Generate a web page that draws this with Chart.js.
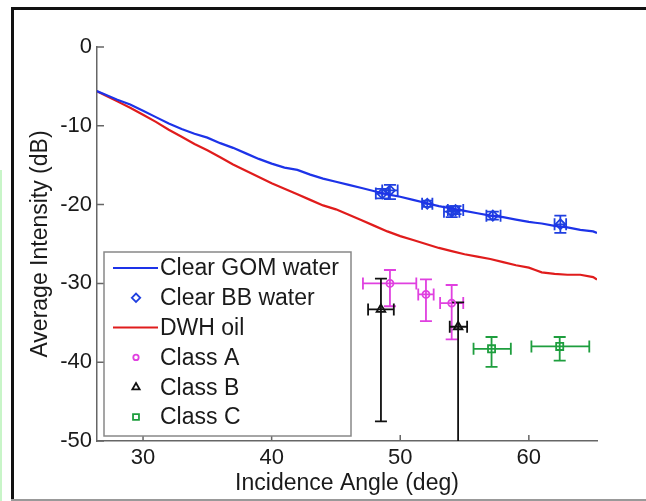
<!DOCTYPE html>
<html>
<head>
<meta charset="utf-8">
<script src="https://cdn.jsdelivr.net/npm/chart.js@4.4.1/dist/chart.umd.min.js"></script>
<style>
html, body { margin: 0; padding: 0; background: #fff; }
#wrap { position: relative; width: 646px; height: 501px; }
</style>
</head>
<body>
<div id="wrap"><canvas id="chart"></canvas></div>
<script>
// axis ticks
const xTicks = [30, 40, 50, 60];
const yTicks = [0, -10, -20, -30, -40, -50];

// mean curves (incidence angle, dB)
const angles = [26.4, 27, 28, 29, 30, 31, 32, 33, 34, 35, 36, 37, 38, 39, 40, 41, 42, 43, 44, 45, 46, 47, 48, 49, 50,
  51, 52, 53, 54, 55, 56, 57, 58, 59, 60, 60.5, 61, 62, 63, 64, 65, 65.3];
const gomWater = [-5.6, -6.0, -6.7, -7.3, -8.1, -8.9, -9.7, -10.4, -11.0, -11.5, -12.2, -12.8, -13.5, -14.2, -14.8,
  -15.3, -15.6, -16.2, -16.7, -17.1, -17.5, -17.9, -18.3, -18.7, -19.0, -19.4, -19.8, -20.2, -20.5, -20.8, -21.1,
  -21.4, -21.6, -21.9, -22.2, -22.3, -22.4, -22.7, -22.9, -23.2, -23.4, -23.6];
const dwhOil = [-5.6, -6.1, -6.9, -7.7, -8.6, -9.5, -10.5, -11.4, -12.3, -13.1, -14.0, -14.9, -15.7, -16.5, -17.3,
  -18.0, -18.7, -19.4, -20.1, -20.6, -21.3, -22.0, -22.7, -23.4, -24.0, -24.5, -25.0, -25.5, -25.9, -26.3, -26.6,
  -26.9, -27.3, -27.7, -28.0, -28.3, -28.6, -28.8, -28.9, -28.9, -29.2, -29.5];

// Clear BB water samples with error ranges
const bbAngle   = [48.6, 49.2, 52.1, 54.0, 54.3, 57.2, 62.45];
const bbLevel   = [-18.6, -18.2, -19.9, -20.9, -20.7, -21.4, -22.5];
const bbAngleLo = [48.1, 48.6, 51.7, 53.4, 53.7, 56.7, 62.0];
const bbAngleHi = [49.1, 49.8, 52.5, 54.6, 54.9, 57.8, 62.9];
const bbLevelLo = [-19.2, -19.3, -20.3, -21.6, -21.2, -21.9, -23.6];
const bbLevelHi = [-18.0, -17.5, -19.5, -20.2, -20.2, -20.9, -21.4];

// Class A
const aAngle   = [49.2, 52.0, 54.0];
const aLevel   = [-30.0, -31.4, -32.5];
const aAngleLo = [47.1, 51.4, 53.1];
const aAngleHi = [51.25, 52.6, 54.9];
const aLevelLo = [-32.9, -34.8, -37.1];
const aLevelHi = [-28.3, -29.5, -30.2];

// Class B
const bAngle   = [48.5, 54.5];
const bLevel   = [-33.3, -35.5];
const bAngleLo = [47.5, 53.85];
const bAngleHi = [49.5, 55.2];
const bLevelLo = [-47.5, -55];
const bLevelHi = [-29.4, -32.4];

// Class C
const cAngle   = [57.1, 62.4];
const cLevel   = [-38.3, -38.0];
const cAngleLo = [55.7, 60.2];
const cAngleHi = [58.6, 64.7];
const cLevelLo = [-40.6, -39.8];
const cLevelHi = [-36.8, -36.8];

const FONT = "'Liberation Sans', Arial, Helvetica, sans-serif";
const AXIS = '#666';
const NONE = 'rgba(0,0,0,0)';

function pts(xs, ys) {
  return xs.map((x, i) => ({ x: x, y: ys[i] }));
}

const errorBars = {
  id: 'errorBars',
  beforeDatasetsDraw(chart) {
    const ctx = chart.ctx;
    const xs = chart.scales.x, ys = chart.scales.y;
    const area = chart.chartArea;
    ctx.save();
    ctx.beginPath();
    ctx.rect(area.left, area.top, area.right - area.left, area.bottom - area.top);
    ctx.clip();
    chart.data.datasets.forEach((ds) => {
      const e = ds.errorBars;
      if (!e) return;
      ctx.strokeStyle = ds.borderColor;
      ctx.lineWidth = 1.8;
      const cap = 6;
      ds.data.forEach((p, i) => {
        const px = xs.getPixelForValue(p.x);
        const py = ys.getPixelForValue(p.y);
        const x0 = xs.getPixelForValue(e.xLo[i]), x1 = xs.getPixelForValue(e.xHi[i]);
        const y0 = ys.getPixelForValue(e.yLo[i]), y1 = ys.getPixelForValue(e.yHi[i]);
        ctx.beginPath();
        ctx.moveTo(x0, py); ctx.lineTo(x1, py);
        ctx.moveTo(x0, py - cap); ctx.lineTo(x0, py + cap);
        ctx.moveTo(x1, py - cap); ctx.lineTo(x1, py + cap);
        ctx.moveTo(px, y0); ctx.lineTo(px, y1);
        ctx.moveTo(px - cap, y0); ctx.lineTo(px + cap, y0);
        ctx.moveTo(px - cap, y1); ctx.lineTo(px + cap, y1);
        ctx.stroke();
      });
    });
    ctx.restore();
  }
};

const frameAndTicks = {
  id: 'frameAndTicks',
  beforeDraw(chart) {
    const ctx = chart.ctx;
    ctx.save();
    ctx.fillStyle = '#fff';
    ctx.fillRect(0, 0, chart.width, chart.height);
    ctx.fillStyle = '#c8f5c8';
    ctx.fillRect(0, 170, 2, chart.height - 170);
    ctx.fillStyle = '#111';
    ctx.fillRect(11, 7, chart.width - 11, 3);
    ctx.fillRect(11, 7, 3, chart.height - 7);
    ctx.fillStyle = '#999';
    ctx.fillRect(11, chart.height - 2, chart.width - 11, 2);
    ctx.restore();
  },
  afterDraw(chart) {
    const ctx = chart.ctx;
    const xs = chart.scales.x, ys = chart.scales.y;
    const area = chart.chartArea;
    ctx.save();
    ctx.strokeStyle = AXIS;
    ctx.lineWidth = 1.5;
    ctx.beginPath();
    xTicks.forEach((v) => {
      const px = xs.getPixelForValue(v);
      ctx.moveTo(px, area.bottom); ctx.lineTo(px, area.bottom - 6);
    });
    yTicks.forEach((v) => {
      const py = ys.getPixelForValue(v);
      ctx.moveTo(area.left, py); ctx.lineTo(area.left + 7, py);
    });
    ctx.stroke();

    // legend box
    const bx = 104, by = 252, bw = 247, bh = 184;
    ctx.fillStyle = '#fff';
    ctx.fillRect(bx, by, bw, bh);
    ctx.strokeStyle = '#888';
    ctx.lineWidth = 1.5;
    ctx.strokeRect(bx, by, bw, bh);
    ctx.textBaseline = 'middle';
    ctx.textAlign = 'left';
    chart.data.datasets.forEach((ds, i) => {
      const ry = 268 + i * 29.8;
      ctx.strokeStyle = ds.borderColor;
      if (ds.showLine) {
        ctx.lineWidth = 2;
        ctx.beginPath();
        ctx.moveTo(113, ry); ctx.lineTo(158, ry);
        ctx.stroke();
      } else {
        ctx.lineWidth = ds.pointBorderWidth;
        ctx.fillStyle = NONE;
        Chart.helpers.drawPoint(ctx, {
          pointStyle: ds.pointStyle, radius: ds.pointRadius - 0.8, rotation: 0, borderWidth: ds.pointBorderWidth
        }, 136, ry);
      }
      ctx.font = '23px ' + FONT;
      ctx.fillStyle = '#1a1a1a';
      ctx.fillText(ds.label, 160, ry + 1);
    });
    ctx.restore();
  }
};

new Chart(document.getElementById('chart'), {
  type: 'scatter',
  data: {
    datasets: [
      { label: 'Clear GOM water', data: pts(angles, gomWater), showLine: true, borderColor: '#1d33e8',
        borderWidth: 2.2, pointRadius: 0, tension: 0 },
      { label: 'Clear BB water', data: pts(bbAngle, bbLevel), borderColor: '#1f3fe0', backgroundColor: NONE,
        pointBackgroundColor: NONE, pointStyle: 'rectRot', pointRadius: 5, pointBorderWidth: 1.8,
        errorBars: { xLo: bbAngleLo, xHi: bbAngleHi, yLo: bbLevelLo, yHi: bbLevelHi } },
      { label: 'DWH oil', data: pts(angles, dwhOil), showLine: true, borderColor: '#e01c1c',
        borderWidth: 2.2, pointRadius: 0, tension: 0 },
      { label: 'Class A', data: pts(aAngle, aLevel), borderColor: '#e040e0', backgroundColor: NONE,
        pointBackgroundColor: NONE, pointStyle: 'circle', pointRadius: 3.5, pointBorderWidth: 1.8,
        errorBars: { xLo: aAngleLo, xHi: aAngleHi, yLo: aLevelLo, yHi: aLevelHi } },
      { label: 'Class B', data: pts(bAngle, bLevel), borderColor: '#111111', backgroundColor: NONE,
        pointBackgroundColor: NONE, pointStyle: 'triangle', pointRadius: 5, pointBorderWidth: 1.8,
        errorBars: { xLo: bAngleLo, xHi: bAngleHi, yLo: bLevelLo, yHi: bLevelHi } },
      { label: 'Class C', data: pts(cAngle, cLevel), borderColor: '#1e9e3e', backgroundColor: NONE,
        pointBackgroundColor: NONE, pointStyle: 'rect', pointRadius: 5, pointBorderWidth: 1.8,
        errorBars: { xLo: cAngleLo, xHi: cAngleHi, yLo: cLevelLo, yHi: cLevelHi } }
    ]
  },
  options: {
    responsive: true,
    maintainAspectRatio: false,
    animation: false,
    layout: { padding: { top: 47, right: 49, left: 0, bottom: 0 } },
    plugins: { legend: { display: false }, tooltip: { enabled: false } },
    scales: {
      x: {
        type: 'linear', position: 'bottom', min: 26.42, max: 65.3,
        afterBuildTicks: (s) => { s.ticks = xTicks.map((v) => ({ value: v })); },
        afterFit: (s) => { s.height = 60; },
        grid: { display: false, drawTicks: false },
        border: { display: true, color: AXIS, width: 1.5 },
        ticks: { color: '#1a1a1a', font: { family: FONT, size: 22 }, padding: 4, maxRotation: 0 },
        title: { display: true, text: 'Incidence Angle (deg)', color: '#1a1a1a',
          font: { family: FONT, size: 23 }, padding: { top: 0, bottom: 4 } }
      },
      y: {
        type: 'linear', position: 'left', min: -50, max: 0,
        afterBuildTicks: (s) => { s.ticks = yTicks.map((v) => ({ value: v })); },
        afterFit: (s) => { s.width = 97; },
        grid: { display: false, drawTicks: false },
        border: { display: true, color: AXIS, width: 1.5 },
        ticks: { color: '#1a1a1a', font: { family: FONT, size: 22 }, padding: 5 },
        title: { display: true, text: 'Average Intensity (dB)', color: '#1a1a1a',
          font: { family: FONT, size: 23 }, padding: { top: 27, bottom: 0 } }
      }
    }
  },
  plugins: [frameAndTicks, errorBars]
});
</script>
</body>
</html>
